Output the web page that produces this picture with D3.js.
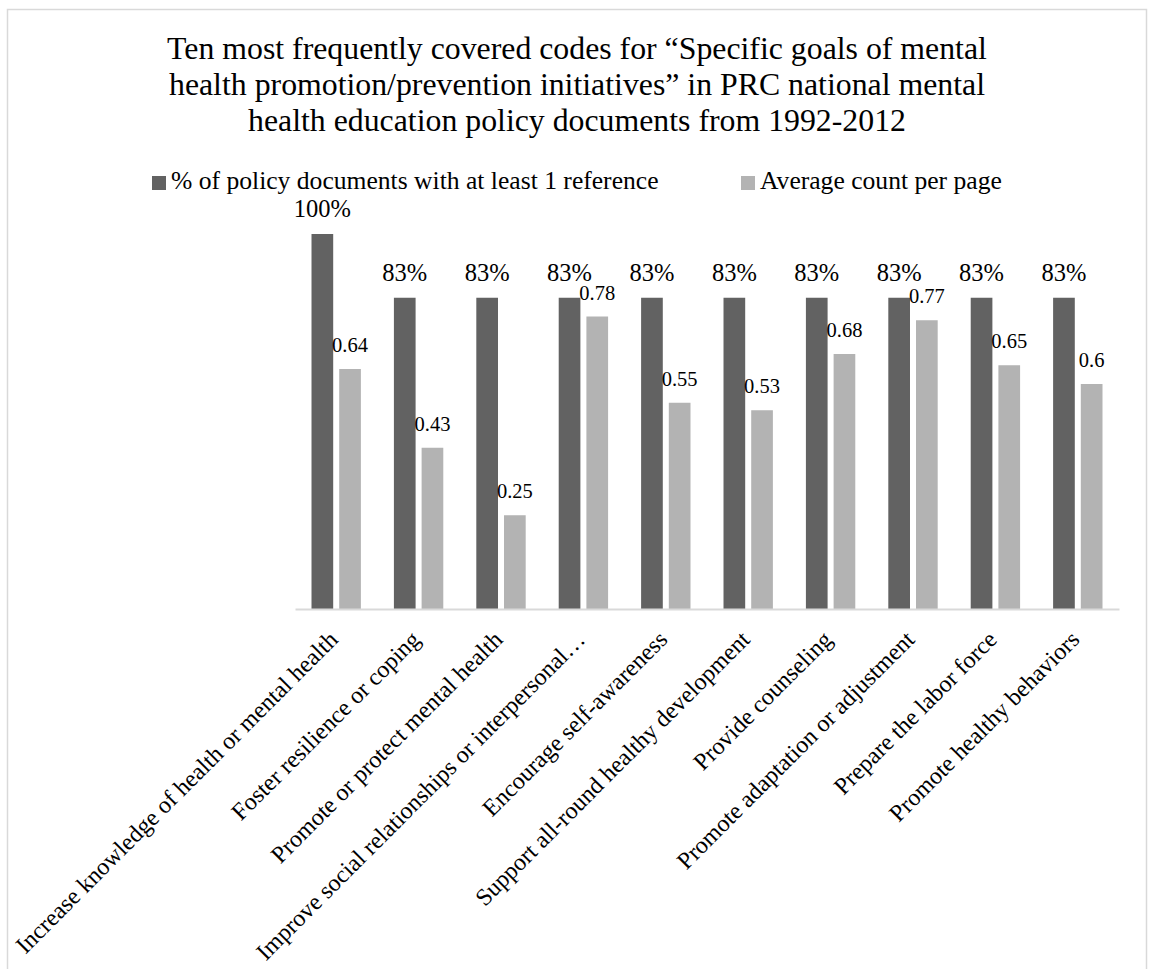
<!DOCTYPE html>
<html>
<head>
<meta charset="utf-8">
<script src="https://cdn.jsdelivr.net/npm/d3@7/dist/d3.min.js"></script>
<style>
  html, body { margin: 0; padding: 0; background: #ffffff; }
  svg { display: block; }
  svg text { font-family: "Liberation Serif", "Times New Roman", serif; }
</style>
</head>
<body>
<svg id="chart" width="1149" height="969"></svg>
<script>
// Codes (x categories)
const categories = [
  "Increase knowledge of health or mental health",
  "Foster resilience or coping",
  "Promote or protect mental health",
  "Improve social relationships or interpersonal\u2026",
  "Encourage self-awareness",
  "Support all-round healthy development",
  "Provide counseling",
  "Promote adaptation or adjustment",
  "Prepare the labor force",
  "Promote healthy behaviors"
];

// Series names
const seriesNames = [
  "% of policy documents with at least 1 reference",
  "Average count per page"
];

// Share of documents with at least one reference
const pctDocs = [1.00, 0.83, 0.83, 0.83, 0.83, 0.83, 0.83, 0.83, 0.83, 0.83];

// Average count per page
const avgCount = [0.64, 0.43, 0.25, 0.78, 0.55, 0.53, 0.68, 0.77, 0.65, 0.60];

// Title lines
const titleLines = [
  "Ten most frequently covered codes for \u201cSpecific goals of mental",
  "health promotion/prevention initiatives\u201d in PRC national mental",
  "health education policy documents from 1992-2012"
];

const FONT = "Liberation Serif, Times New Roman, serif";
const colors = ["#626262", "#b3b3b3"];
const gridColor = "#d9d9d9";

const svg = d3.select("#chart");

// Outer chart frame
svg.append("rect")
  .attr("x", 7.5).attr("y", 9.5)
  .attr("width", 1139).attr("height", 990)
  .attr("fill", "#ffffff")
  .attr("stroke", gridColor)
  .attr("stroke-width", 1.5);

// Plot geometry
const plot = { left: 295, right: 1119, baseline: 609, top: 234 };

const x0 = d3.scaleBand()
  .domain(categories)
  .range([plot.left, plot.right])
  .paddingInner(0).paddingOuter(0);

const x1 = d3.scaleBand()
  .domain(d3.range(seriesNames.length))
  .range([0, x0.bandwidth()])
  .paddingInner(0.217)
  .paddingOuter(0.596);

const y = d3.scaleLinear().domain([0, 1]).range([plot.baseline, plot.top]);

const rows = categories.map((c, i) => ({ cat: c, vals: [pctDocs[i], avgCount[i]] }));

// Title
const title = svg.append("text")
  .attr("font-family", FONT)
  .attr("text-anchor", "middle")
  .attr("font-size", 31.8)
  .attr("fill", "#000");
titleLines.forEach((t, i) => {
  title.append("tspan").attr("x", 577).attr("y", 59 + i * 36).text(t);
});

// Legend
const legendX = [152, 741];
seriesNames.forEach((name, i) => {
  const g = svg.append("g").attr("transform", `translate(${legendX[i]},0)`);
  g.append("rect").attr("x", 0).attr("y", 176).attr("width", 14).attr("height", 14)
    .attr("fill", colors[i]);
  g.append("text").attr("x", 19).attr("y", 189)
    .attr("font-family", FONT)
    .attr("font-size", 25.6).attr("fill", "#000").text(name);
});

// Bars
const groups = svg.append("g").selectAll("g")
  .data(rows).join("g")
  .attr("transform", d => `translate(${x0(d.cat)},0)`);

groups.selectAll("rect")
  .data(d => d.vals.map((v, k) => ({ v, k })))
  .join("rect")
  .attr("x", d => x1(d.k))
  .attr("width", x1.bandwidth())
  .attr("y", d => y(d.v))
  .attr("height", d => y(0) - y(d.v))
  .attr("fill", d => colors[d.k]);

// Value labels
const pctFmt = d3.format(".0%");
groups.selectAll("text.val")
  .data(d => d.vals.map((v, k) => ({ v, k })))
  .join("text")
  .attr("class", "val")
  .attr("font-family", FONT)
  .attr("x", d => x1(d.k) + x1.bandwidth() / 2)
  .attr("y", d => y(d.v) - 17)
  .attr("text-anchor", "middle")
  .attr("font-size", d => d.k === 0 ? 24.5 : 20.5)
  .attr("fill", "#000")
  .text(d => d.k === 0 ? pctFmt(d.v) : String(d.v));

// Category axis
const xAxis = svg.append("g")
  .attr("transform", `translate(0,${plot.baseline})`)
  .call(d3.axisBottom(x0).tickSize(0).tickPadding(0));
xAxis.attr("font-family", FONT);
xAxis.select(".domain").attr("stroke", gridColor).attr("stroke-width", 2);
xAxis.selectAll(".tick text")
  .attr("font-family", FONT)
  .attr("font-size", 24)
  .attr("fill", "#000")
  .attr("text-anchor", "end")
  .attr("dy", 0)
  .attr("y", 0)
  .attr("transform", "translate(3,32) rotate(-45)");
</script>
</body>
</html>
